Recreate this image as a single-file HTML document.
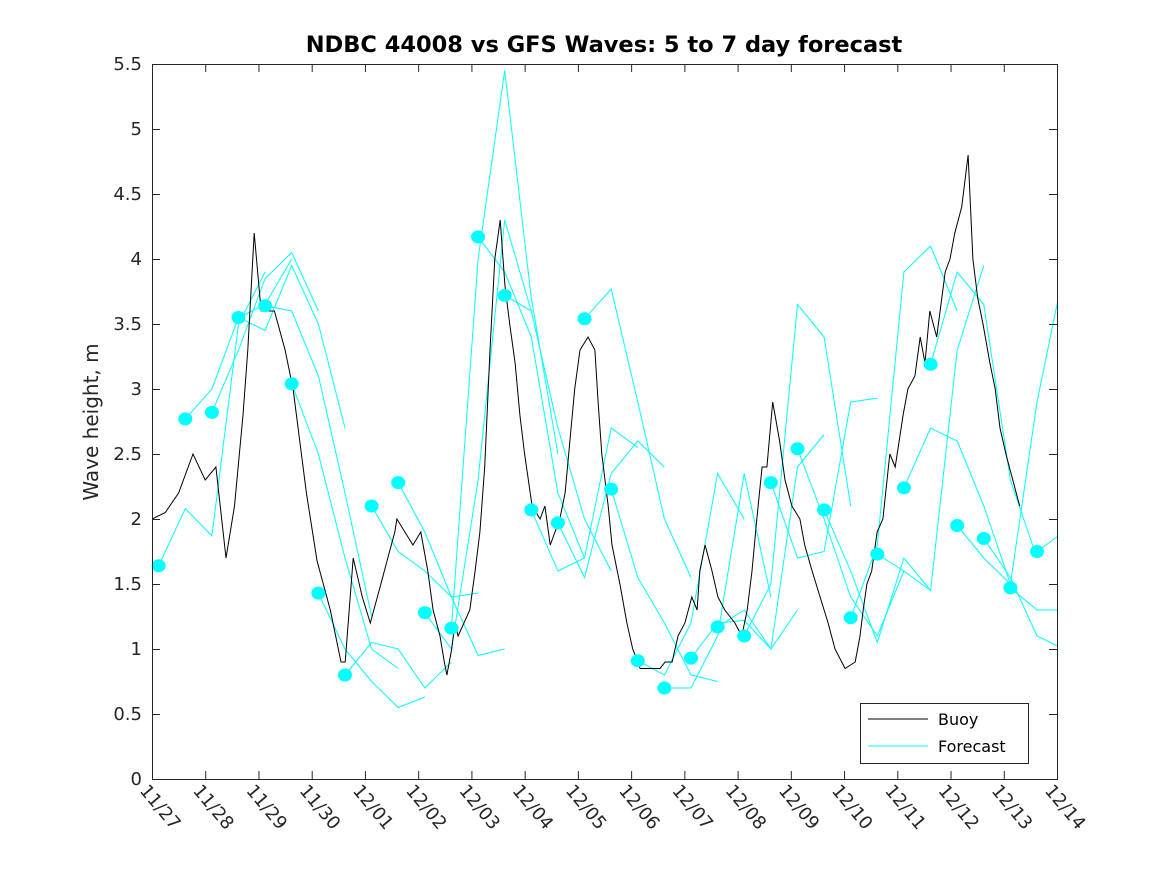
<!DOCTYPE html>
<html><head><meta charset="utf-8"><style>
body{margin:0;background:#fff;}
svg{display:block;font-family:"DejaVu Sans","Liberation Sans",sans-serif;}
</style></head><body>
<svg id="chart" width="1167" height="875" viewBox="0 0 1167 875">
<rect width="1167" height="875" fill="#fff"/>
<text x="604" y="52" text-anchor="middle" font-size="22.5" font-weight="bold" fill="#000">NDBC 44008 vs GFS Waves: 5 to 7 day forecast</text>
<text transform="translate(98,422) rotate(-90)" text-anchor="middle" font-size="20" fill="#262626">Wave height, m</text>
<g id="plot"></g>
<rect x="152.5" y="64.5" width="905" height="715" fill="none" stroke="#262626" stroke-width="1"/>
<g id="axes"></g>
<g>
<rect x="860.5" y="703.5" width="168" height="60" fill="#fff" stroke="#262626"/>
<line x1="868" y1="719" x2="928" y2="719" stroke="#000" stroke-width="1"/>
<text x="938" y="725" font-size="16" fill="#000">Buoy</text>
<line x1="868" y1="746" x2="928" y2="746" stroke="#00ffff" stroke-width="1"/>
<text x="938" y="752" font-size="16" fill="#000">Forecast</text>
</g>
</svg>
<script>
const xTickLabels=["11/27","11/28","11/29","11/30","12/01","12/02","12/03","12/04","12/05","12/06","12/07","12/08","12/09","12/10","12/11","12/12","12/13","12/14"];
const yTicks=[0,0.5,1,1.5,2,2.5,3,3.5,4,4.5,5,5.5];
const buoyT=[0,0.25,0.5,0.77,1.0,1.2,1.39,1.55,1.71,1.8,1.92,2.05,2.3,2.5,2.65,2.9,3.1,3.35,3.55,3.63,3.78,3.95,4.1,4.3,4.43,4.56,4.6,4.75,4.9,5.05,5.18,5.28,5.41,5.49,5.54,5.63,5.69,5.75,5.97,6.07,6.16,6.25,6.35,6.44,6.54,6.63,6.72,6.82,6.91,7.0,7.14,7.29,7.38,7.48,7.66,7.76,7.85,7.94,8.04,8.19,8.32,8.38,8.45,8.57,8.64,8.79,8.92,9.03,9.17,9.54,9.64,9.77,9.88,10.01,10.14,10.24,10.29,10.39,10.52,10.63,10.76,10.95,11.08,11.18,11.27,11.36,11.46,11.55,11.66,11.79,11.89,12.02,12.17,12.26,12.4,12.55,12.7,12.83,13.02,13.21,13.3,13.36,13.43,13.52,13.62,13.73,13.86,13.96,14.11,14.2,14.33,14.43,14.52,14.61,14.74,14.9,14.99,15.08,15.21,15.33,15.42,15.51,15.61,15.74,15.84,15.93,16.04,16.17,16.3];
const buoyH=[2.0,2.05,2.2,2.5,2.3,2.4,1.7,2.1,2.8,3.3,4.2,3.6,3.6,3.3,3.0,2.2,1.68,1.3,0.9,0.9,1.7,1.4,1.2,1.5,1.7,1.9,2.0,1.9,1.8,1.9,1.6,1.3,1.1,0.9,0.8,1.0,1.2,1.1,1.3,1.6,1.9,2.4,3.3,4.0,4.3,3.8,3.5,3.2,2.8,2.5,2.1,2.0,2.1,1.8,2.0,2.2,2.6,3.0,3.3,3.4,3.3,2.9,2.5,2.1,1.8,1.5,1.2,1.0,0.85,0.85,0.9,0.9,1.1,1.2,1.4,1.3,1.6,1.8,1.6,1.4,1.3,1.2,1.1,1.3,1.6,2.0,2.4,2.4,2.9,2.6,2.3,2.1,2.0,1.8,1.6,1.4,1.2,1.0,0.85,0.9,1.1,1.3,1.5,1.6,1.9,2.0,2.5,2.4,2.8,3.0,3.1,3.4,3.2,3.6,3.4,3.9,4.0,4.2,4.4,4.8,4.0,3.7,3.5,3.2,3.0,2.7,2.5,2.3,2.1];
const fcStart=[0.125,0.625,1.125,1.625,2.125,2.625,3.125,3.625,4.125,4.625,5.125,5.625,6.125,6.625,7.125,7.625,8.125,8.625,9.125,9.625,10.125,10.625,11.125,11.625,12.125,12.625,13.125,13.625,14.125,14.625,15.125,15.625,16.125,16.625];
const fcVals=[
[1.64,2.08,1.87,3.5,3.9],[2.77,3.0,3.55,3.65,4.0],[2.82,3.3,3.85,4.05,3.6],[3.55,3.45,3.95,3.5,2.7],
[3.64,3.6,3.1,2.2,1.25],[3.04,2.5,1.7,1.0,0.85],[1.43,1.0,0.75,0.55,0.63],[0.80,1.05,1.0,0.7,0.9],
[2.10,1.75,1.6,1.4,1.43],[2.28,1.9,1.4,0.95,1.0],[1.28,1.0,2.3,4.3,3.6],[1.16,4.0,5.45,3.7,2.5],
[4.17,3.9,3.4,2.2,1.7],[3.72,3.6,2.7,2.0,1.6],[2.07,1.6,1.7,2.7,2.55],[1.97,1.55,2.35,2.6,2.4],
[3.54,3.77,2.9,2.0,1.55],[2.23,1.55,1.2,0.8,0.75],[0.91,0.8,1.2,2.35,2.0],[0.70,0.7,1.1,2.35,1.4],
[0.93,1.2,1.22,1.0,1.3],[1.17,1.3,1.0,2.4,2.65],[1.10,1.5,3.65,3.4,2.1],[2.28,1.7,1.75,2.9,2.93],
[2.54,2.0,1.4,1.1,1.6],[2.07,1.6,1.05,1.7,1.45],[1.24,1.8,3.9,4.1,3.6],[1.73,1.6,1.45,3.3,3.95],
[2.24,2.7,2.6,2.1,1.5],[3.19,3.9,3.65,2.3,1.7],[1.95,1.7,1.5,2.9,3.9],[1.85,1.55,1.1,1.0,1.3],
[1.47,1.3,1.3,1.2,1.05],[1.75,1.9,3.2,3.3,3.3]];
const X0=152,X1=1057,Y0=779,Y1=64,TMAX=17,HMAX=5.5;
const xs=t=>X0+(X1-X0)*t/TMAX, ys=h=>Y0-(Y0-Y1)*h/HMAX;
const NS="http://www.w3.org/2000/svg";
const plot=document.getElementById('plot'), axes=document.getElementById('axes');
function mk(tag,attrs,parent){const e=document.createElementNS(NS,tag);for(const k in attrs)e.setAttribute(k,attrs[k]);parent.appendChild(e);return e;}
const cp=mk('clipPath',{id:'clip'},plot);mk('rect',{x:X0,y:Y1,width:X1-X0,height:Y0-Y1},cp);
const gF=mk('g',{'clip-path':'url(#clip)'},plot);
fcStart.forEach((t0,i)=>{
  const pts=fcVals[i].map((v,j)=>xs(t0+0.5*j).toFixed(1)+','+ys(v).toFixed(1)).join(' ');
  const pl=mk('polyline',{points:pts,fill:'none',stroke:'#00ffff','stroke-width':1},gF);
  
  
});
let bp='';
buoyT.forEach((t,i)=>{const x=xs(t).toFixed(1),y=ys(buoyH[i]).toFixed(1);bp+=(i?' L':'M')+x+','+y;});
const buoy=mk('path',{d:bp,fill:'none',stroke:'#000','stroke-width':1},gF);


fcStart.forEach((t0,i)=>{
  const c=mk('ellipse',{cx:xs(t0),cy:ys(fcVals[i][0]),rx:7,ry:6.5,fill:'#00ffff'},plot);
  
  
});
xTickLabels.forEach((lab,i)=>{
  const x=xs(i)+0.5;
  mk('line',{x1:x,y1:Y0,x2:x,y2:Y0-8,stroke:'#262626'},axes);
  mk('line',{x1:x,y1:Y1,x2:x,y2:Y1+8,stroke:'#262626'},axes);
  const tx=mk('text',{transform:`translate(${xs(i)-13},${Y0+12}) rotate(50)`,'font-size':18,fill:'#262626'},axes);
  tx.textContent=lab;
  
  
});
yTicks.forEach(v=>{
  const y=ys(v)+0.5;
  mk('line',{x1:X0,y1:y,x2:X0+8,y2:y,stroke:'#262626'},axes);
  mk('line',{x1:X1,y1:y,x2:X1-8,y2:y,stroke:'#262626'},axes);
  const tx=mk('text',{x:X0-10,y:ys(v)+6,'text-anchor':'end','font-size':18,fill:'#262626'},axes);
  tx.textContent=String(v);
  
  
});
</script>
</body></html>
